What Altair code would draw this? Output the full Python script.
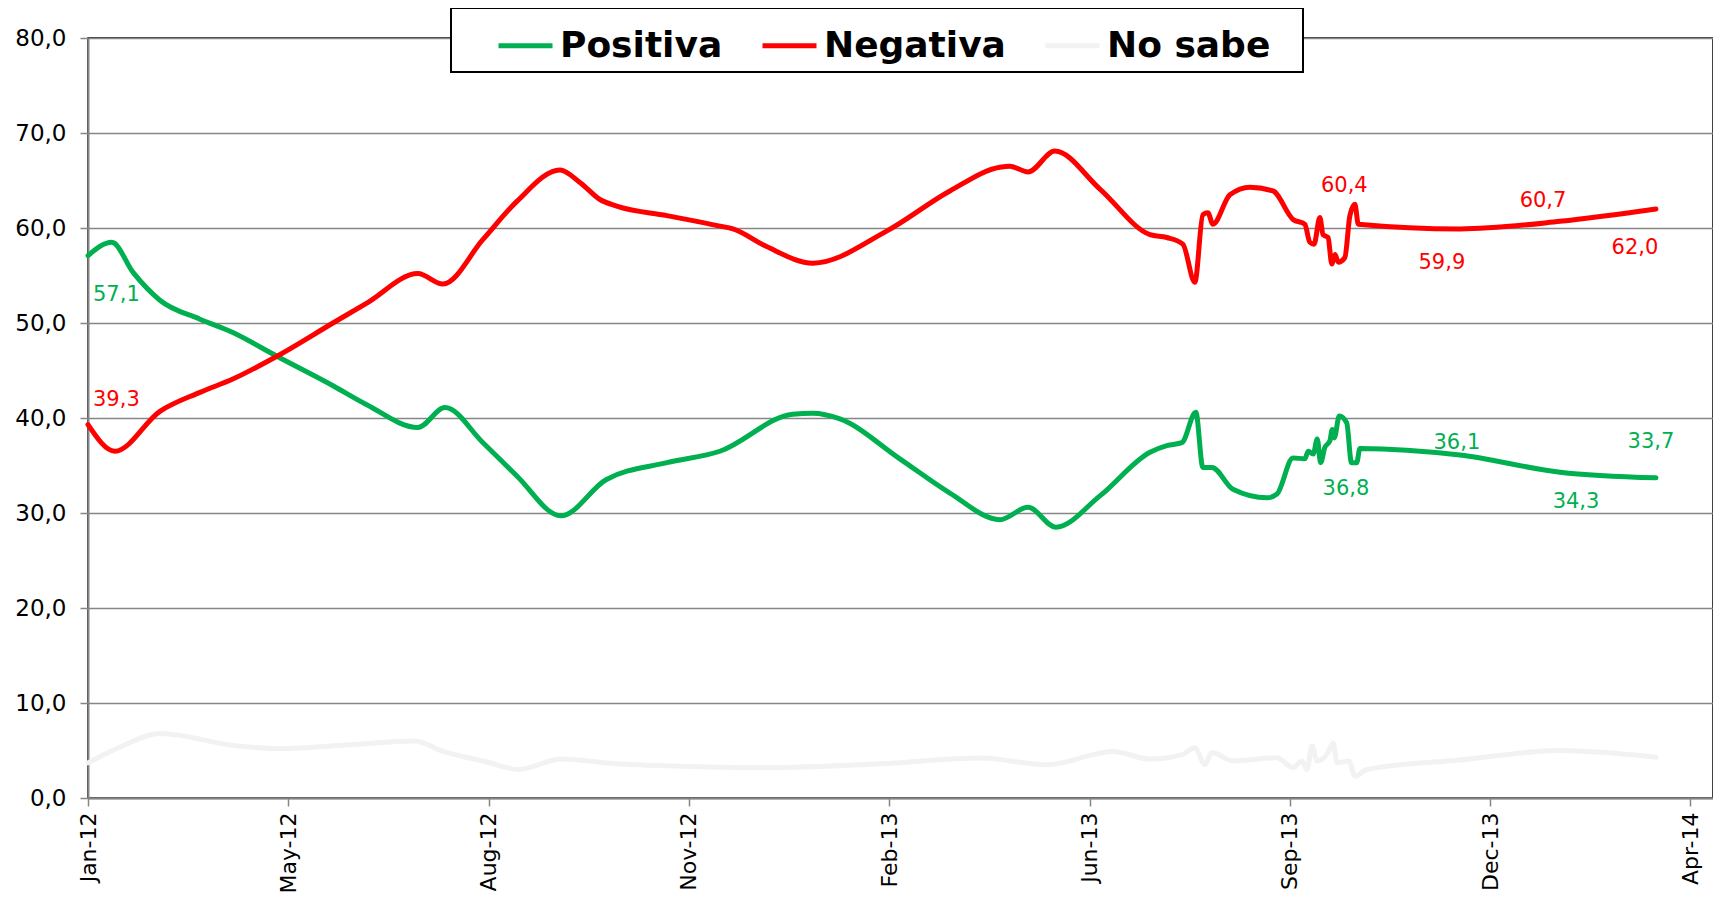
import altair as alt
import pandas as pd

# ---- data (days since 2012-01-23, value %) ----
START = "2012-01-23"

pos_days = [0, 11.9, 22.6, 35.9, 55.9, 72.3, 94.3, 122.3, 139.2, 164.7, 178.2, 197.2, 214.1,
            236.1, 258.6, 289.0, 315.5, 351.9, 361.9, 375.4, 405.3, 430.3, 455.3, 469.3, 483.2,
            505.2, 530.2, 538.6, 546.1, 553.1, 556.6, 561.1, 571.6, 588.6, 593.6, 601.6, 607.5,
            609.2, 611.7, 613.7, 615.4, 617.5, 620.0, 621.2, 622.2, 624.7, 628.4, 630.8, 633.4,
            635.0, 684.9, 734.9, 782.8]
pos_vals = [57.1, 58.5, 55.3, 52.4, 50.4, 49.0, 46.5, 43.4, 41.4, 39.0, 41.1, 37.4, 33.9,
            29.7, 33.5, 35.3, 36.5, 40.4, 40.5, 39.9, 35.7, 32.1, 29.3, 30.6, 28.5,
            31.8, 36.4, 37.1, 37.4, 40.6, 34.8, 34.8, 32.5, 31.6, 32.0, 35.8, 35.7,
            36.5, 36.2, 37.8, 35.3, 36.9, 37.6, 38.8, 37.9, 40.2, 39.5, 35.3, 35.3,
            36.8, 36.1, 34.3, 33.7]

neg_days = [0, 13.4, 35.9, 55.9, 72.3, 94.3, 122.3, 139.2, 164.7, 177.2, 197.2, 214.1, 235.6,
            245.6, 255.6, 264.0, 289.0, 315.5, 322.0, 338.3, 361.9, 398.9, 430.3, 455.3, 460.2,
            469.3, 482.7, 505.2, 530.2, 538.6, 546.6, 552.6, 556.6, 559.1, 561.6, 570.1, 580.1,
            591.6, 601.6, 607.5, 610.0, 612.1, 615.0, 616.6, 619.1, 621.0, 622.6, 624.2, 627.5,
            630.0, 632.5, 634.2, 684.9, 734.9, 782.8]
neg_vals = [39.3, 36.5, 40.7, 42.7, 44.1, 46.5, 50.0, 52.1, 55.2, 54.1, 58.8, 62.8, 66.1,
            64.8, 63.0, 62.3, 61.3, 60.2, 59.9, 58.1, 56.3, 59.7, 63.9, 66.4, 66.5,
            65.9, 68.1, 64.1, 59.3, 59.0, 58.3, 54.3, 61.4, 61.6, 60.4, 63.5, 64.3,
            63.9, 60.9, 60.4, 58.5, 58.3, 61.1, 59.3, 59.0, 56.2, 57.2, 56.4, 56.9,
            61.3, 62.5, 60.4, 59.9, 60.7, 62.0]

ns_days = [0, 17.4, 35.9, 73.8, 96.3, 130.8, 163.2, 177.2, 197.2, 215.1, 236.1, 264.0, 305.5,
           336.9, 395.3, 445.8, 478.7, 511.7, 530.2, 546.6, 552.6, 557.6, 561.1, 571.6, 593.6,
           601.6, 606.1, 608.6, 611.1, 613.6, 618.6, 621.6, 623.6, 629.5, 632.5, 638.5, 684.9,
           734.9, 782.8]
ns_vals = [3.7, 5.5, 6.8, 5.5, 5.2, 5.6, 6.0, 4.9, 3.9, 3.0, 4.1, 3.6, 3.3,
           3.2, 3.6, 4.2, 3.5, 4.9, 4.1, 4.6, 5.3, 3.5, 4.8, 3.9, 4.25,
           3.2, 3.9, 3.0, 5.5, 3.9, 4.6, 5.8, 3.7, 3.9, 2.3, 3.0, 4.0,
           5.0, 4.3]

series_names = ["Positiva", "Negativa", "No sabe"]
series_colors = ["#00B050", "#FF0000", "#F2F2F2"]

# labelled points: (series, index into that series' arrays)
label_points = [("Positiva", 0), ("Negativa", 0),
                ("Negativa", -4), ("Positiva", -4),
                ("Negativa", -3), ("Positiva", -3),
                ("Negativa", -2), ("Positiva", -2),
                ("Negativa", -1), ("Positiva", -1)]
# label placement (style): align, dx, dy
label_style = [("left", 5, 39), ("left", 5, -25),
               ("center", -14, -38), ("center", -14, 41),
               ("center", -18, 34), ("center", -3, -12),
               ("center", -17, -20), ("center", 16, 30),
               ("center", -21, 39), ("center", -5, -36)]

t0 = pd.Timestamp(START, tz="UTC").value // 10**6
DAY = 86400000

PLOT_W = 1625
PX_PER_DAY = 2.003


def frame(days, vals, name):
    return pd.DataFrame({"t": [t0 + d * DAY for d in days], "v": vals, "serie": name})


data = {
    "Positiva": frame(pos_days, pos_vals, "Positiva"),
    "Negativa": frame(neg_days, neg_vals, "Negativa"),
    "No sabe": frame(ns_days, ns_vals, "No sabe"),
}

tick_values = [t0 + k * 100 * DAY for k in range(9)]
x_domain = [t0, t0 + (PLOT_W / PX_PER_DAY) * DAY]

color_scale = alt.Scale(domain=series_names, range=series_colors)

x_enc = alt.X("t:T", scale=alt.Scale(type="utc", domain=x_domain, nice=False),
              axis=alt.Axis(values=tick_values, labelExpr="utcFormat(datum.value, '%b-%y')",
                            grid=False, labelAngle=-90, title=None))
y_enc = alt.Y("v:Q", scale=alt.Scale(domain=[0, 80], nice=False),
              axis=alt.Axis(values=[0, 10, 20, 30, 40, 50, 60, 70, 80],
                            labelExpr="replace(format(datum.value, '.1f'), '.', ',')",
                            title=None))

# an invisible (white) title on the right only widens the legend frame
legend = alt.Legend(title=".", titleOrient="right", titleColor="white", titleFontSize=36,
                    titlePadding=14, orient="none", direction="horizontal",
                    legendX=363, legendY=-30, labelLimit=500)

layers = []
for name in ["No sabe", "Positiva", "Negativa"]:
    layers.append(
        alt.Chart(data[name]).mark_line(interpolate="monotone", strokeWidth=5, strokeCap="round",
                                        strokeJoin="round")
        .encode(x=x_enc, y=y_enc,
                color=alt.Color("serie:N", scale=color_scale, legend=legend))
    )

for (serie, idx), (align, dx, dy) in zip(label_points, label_style):
    df = data[serie].iloc[[idx]].copy()
    df["txt"] = df["v"].map(lambda v: f"{v:.1f}".replace(".", ","))
    col = series_colors[series_names.index(serie)]
    layers.append(
        alt.Chart(df).mark_text(align=align, baseline="middle", dx=dx, dy=dy, fontSize=21,
                                font="DejaVu Sans", color=col)
        .encode(x=alt.X("t:T"), y=alt.Y("v:Q"), text="txt:N")
    )

chart = alt.layer(*layers).properties(
    width=PLOT_W, height=760,
    autosize=alt.AutoSizeParams(type="none"),
    padding={"left": 80, "top": 30, "right": 0, "bottom": 95}
).configure_view(
    stroke="black", strokeWidth=1.5
).configure_axis(
    domainColor="#868686", domainWidth=2, gridColor="#868686", gridWidth=1.5,
    tickColor="#868686", tickSize=8, tickWidth=1.5, labelColor="black",
    labelFont="DejaVu Sans", labelFontSize=23, labelPadding=14
).configure_axisX(
    labelFontSize=22, labelPadding=6
).configure_legend(
    labelFont="DejaVu Sans", labelFontSize=36, labelFontWeight="bold", labelColor="black",
    symbolType="stroke", symbolSize=2916, symbolStrokeWidth=5, columnPadding=0,
    padding=8, strokeColor="black", strokeWidth=2, fillColor="white", labelOffset=5,
    symbolOffset=37
)

chart.save("out.html", embed_options={"renderer": "svg", "actions": False})
